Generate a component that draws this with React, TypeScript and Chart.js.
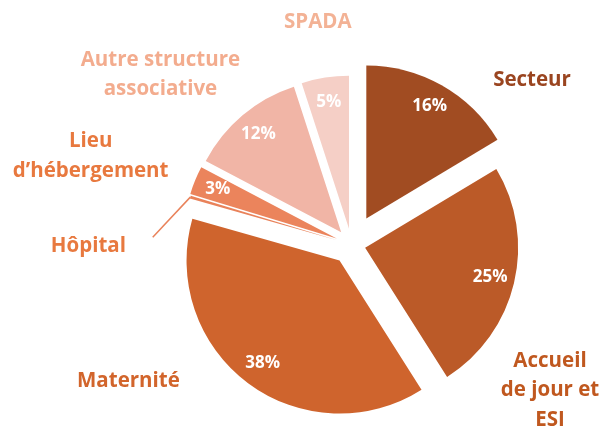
import React, { useEffect, useRef } from "react";
import { Chart, registerables } from "chart.js";

Chart.register(...registerables);

// ---- data ----
const categories = [
  "Secteur",
  "Accueil de jour et ESI",
  "Maternité",
  "Hôpital",
  "Lieu d’hébergement",
  "Autre structure associative",
  "SPADA",
];
const labelLines = [
  ["Secteur"],
  ["Accueil", "de jour et", "ESI"],
  ["Maternité"],
  ["Hôpital"],
  ["Lieu", "d’hébergement"],
  ["Autre structure", "associative"],
  ["SPADA"],
];
const shares = [16.4, 24.6, 38.4, 0.3, 3.0, 12.3, 5.0];

// ---- styles / layout ----
const sliceColors = ["#A14C22", "#BB5A28", "#CF642D", "#E9825A", "#EB845C", "#F1B5A6", "#F5CFC6"];
const labelColors = ["#9A4520", "#C0581F", "#D2652C", "#E8793F", "#E8793F", "#F3AC8E", "#F3B295"];
const explode = [30, 14, 20, 15, 16, 16, 16];
const labelAngle = [47.7, 126.3, 238.5, 269.6, 288.7, 311.6, 351.4];
const labelDist = [1.595, 1.61, 1.71, 1.72, 1.8, 1.67, 1.47];
const leaderAngle: (number | null)[] = [null, null, null, 272.1, null, null, null];
const leaderDist = 1.3;
const pctDist = 0.84;
const FONT = '"Open Sans", "Noto Sans", sans-serif';

const piePlugin = {
  id: "explodedPie",
  beforeDatasetDraw(chart: any, args: any) {
    const ctx = chart.ctx;
    args.meta.data.forEach((arc: any, i: number) => {
      const mid = (arc.startAngle + arc.endAngle) / 2;
      ctx.save();
      ctx.translate(Math.cos(mid) * explode[i], Math.sin(mid) * explode[i]);
      arc.draw(ctx, chart.chartArea);
      ctx.restore();
    });
    return false;
  },
  afterDatasetsDraw(chart: any) {
    const ctx = chart.ctx;
    const meta = chart.getDatasetMeta(0);
    const total = shares.reduce((a, b) => a + b, 0);
    meta.data.forEach((arc: any, i: number) => {
      const { x, y, startAngle, endAngle, outerRadius } = arc.getProps(
        ["x", "y", "startAngle", "endAngle", "outerRadius"],
        true
      );
      const mid = (startAngle + endAngle) / 2;
      const ax = x + Math.cos(mid) * explode[i];
      const ay = y + Math.sin(mid) * explode[i];
      ctx.save();
      ctx.textAlign = "center";
      ctx.textBaseline = "middle";
      const pct = Math.round((shares[i] / total) * 100);
      if (pct >= 1) {
        ctx.fillStyle = "#FFFFFF";
        ctx.font = `bold 17px ${FONT}`;
        ctx.fillText(
          pct + "%",
          ax + Math.cos(mid) * pctDist * outerRadius,
          ay + Math.sin(mid) * pctDist * outerRadius
        );
      }
      const la = ((labelAngle[i] - 90) * Math.PI) / 180;
      const lx = x + Math.cos(la) * labelDist[i] * outerRadius;
      const ly = y + Math.sin(la) * labelDist[i] * outerRadius;
      const lines = labelLines[i];
      const lh = 29.5;
      ctx.fillStyle = labelColors[i];
      ctx.font = `bold 20.5px ${FONT}`;
      lines.forEach((t, k) => {
        ctx.fillText(t, lx, ly + (k - (lines.length - 1) / 2) * lh);
      });
      const lead = leaderAngle[i];
      if (lead !== null) {
        const sx = ax + Math.cos(mid) * outerRadius;
        const sy = ay + Math.sin(mid) * outerRadius;
        const ea = ((lead - 90) * Math.PI) / 180;
        const ex = x + Math.cos(ea) * leaderDist * outerRadius;
        const ey = y + Math.sin(ea) * leaderDist * outerRadius;
        ctx.strokeStyle = sliceColors[i];
        ctx.lineWidth = 1.5;
        ctx.beginPath();
        ctx.moveTo(sx, sy);
        ctx.lineTo(ex, ey);
        ctx.stroke();
      }
      ctx.restore();
    });
  },
};

export default function App() {
  const ref = useRef<HTMLCanvasElement | null>(null);
  useEffect(() => {
    document.body.style.margin = "0";
    const canvas = ref.current;
    if (!canvas) return;
    const chart = new Chart(canvas, {
      type: "pie",
      data: {
        labels: categories,
        datasets: [
          {
            data: shares,
            backgroundColor: sliceColors,
            borderWidth: 0,
            radius: 153,
          } as any,
        ],
      },
      options: {
        responsive: false,
        animation: false,
        devicePixelRatio: 1,
        layout: { padding: { left: 102, right: 0, top: 61, bottom: 0 } },
        plugins: {
          legend: { display: false },
          tooltip: { enabled: false },
        },
      },
      plugins: [piePlugin],
    });
    return () => chart.destroy();
  }, []);
  return (
    <div style={{ width: 601, height: 428, background: "#fff" }}>
      <canvas ref={ref} width={601} height={428} style={{ width: 601, height: 428, display: "block" }} />
    </div>
  );
}
